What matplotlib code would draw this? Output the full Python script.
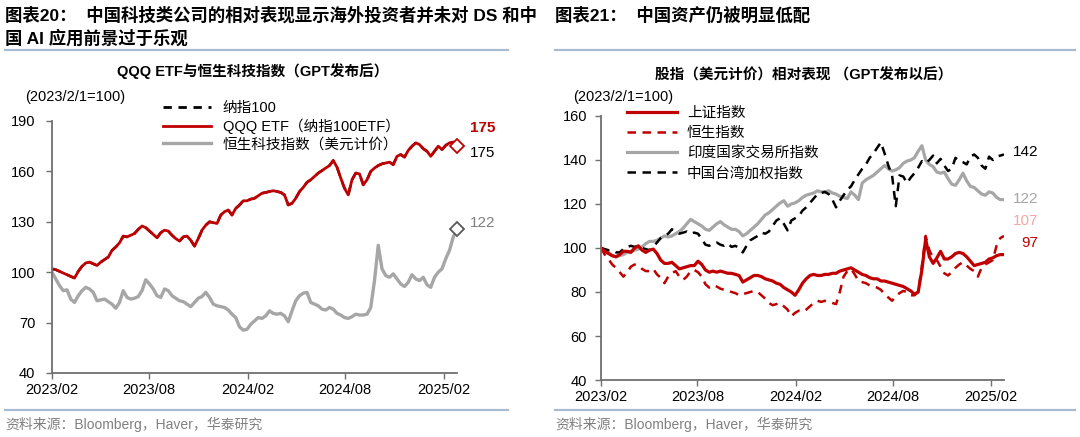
import matplotlib
matplotlib.use("Agg")
import pandas as pd
from matplotlib import pyplot as plt
from matplotlib.lines import Line2D

plt.rcParams['font.family'] = ['Liberation Sans', 'Noto Sans CJK SC']

# weekly observations, 2023/2/1 = 100
dates = pd.date_range('2023-02-01', periods=109, freq='7D')

qqq = [
    102, 101.5, 100.5, 99.5, 98.5, 97.5, 96.5, 100.5, 103.5, 105.5,
    106, 105, 104, 106, 107.5, 109, 113, 115, 117.5, 121.5,
    121, 122, 123, 125.5, 127.5, 126.5, 124.5, 122.5, 120.5, 123.5,
    125, 124.5, 122, 120, 118.5, 121, 121.5, 119, 115.5, 120,
    125, 128, 130, 129.5, 129, 134, 136, 137, 134, 138,
    140, 142.5, 142.5, 143.5, 144, 145.5, 147, 147.5, 148, 148.5,
    148, 147.5, 146, 140, 141, 144, 148, 150.5, 153.5, 155,
    157, 159, 160.5, 162, 163.5, 166.5, 162.5, 156, 150, 146,
    155, 159, 158.5, 152, 155, 160, 162, 163.5, 164.5, 165,
    165.5, 164, 169, 170, 168.5, 172.5, 175, 177, 176, 173.5,
    172, 169, 172, 175, 173, 175.5, 177, 177.5, 175,
]
ndx = list(qqq)  # the ETF tracks the index, line sits underneath

hstech = [
    100, 96, 92, 89, 89.5, 84, 82, 86, 89, 91,
    90, 88, 83, 83.5, 84, 82.5, 81, 78.5, 82, 89,
    85, 84, 84.5, 85.5, 89, 95.5, 93, 90, 86, 85,
    90, 89, 86, 84.5, 83, 82.5, 81, 79.5, 82, 84.5,
    85.5, 88, 85, 81, 80, 79.5, 79, 77.5, 75, 73,
    67.5, 65.5, 66, 69, 71, 73, 72.5, 74, 77, 75.5,
    75, 75.5, 74, 70.5, 77, 83, 86, 87.5, 88, 82,
    81, 80, 78, 77.5, 79, 78, 75.5, 74.5, 73, 72.5,
    73.5, 75, 74.5, 74.5, 75, 79, 95, 116, 102, 98,
    97, 99, 96, 93, 91.5, 94, 98.5, 96, 95, 97,
    92.5, 91, 97, 100, 102, 108, 113, 121, 125.5,
]

sse = [
    100, 98.5, 97.5, 96.5, 96, 97, 98.5, 98.5, 98, 100,
    101, 99, 98, 99, 99.5, 97.5, 94.5, 93, 93, 93.5,
    92, 90.5, 91, 91.5, 92, 92, 94, 92.5, 90, 89,
    89.5, 89, 89.5, 89, 88.5, 88.5, 88, 87.5, 84.5, 85.5,
    86.5, 87.5, 87.5, 87, 86, 85.5, 85, 84, 83.5, 82,
    81, 80, 78.5, 81, 84, 86, 87.5, 88, 87.5, 87.5,
    88, 88, 88.5, 88.5, 89.5, 90, 90.5, 91, 90, 89,
    88, 87.5, 86.5, 86, 86, 85, 85, 84.5, 84, 83.5,
    83, 82.5, 81.5, 80.5, 79, 80, 90, 104, 96, 93,
    95.5, 98.5, 95, 95, 96, 97.5, 98, 97.5, 96, 94,
    92, 92.5, 93, 93.5, 95, 95.5, 96.5, 97, 97,
]

hsi = [
    100, 97, 95, 92.5, 91, 89, 87, 89, 91.5, 92.5,
    92, 90.5, 89.5, 89.5, 90.5, 88, 86.5, 84, 87, 88.5,
    89.5, 87, 85.5, 87, 89.5, 90, 89, 87, 83.5, 82,
    83, 82.5, 81.5, 81, 80.5, 80, 79.5, 78.5, 79, 79.5,
    80, 80.5, 80, 78.5, 77, 75, 74, 74.5, 75, 73.5,
    72, 69, 70.5, 71.5, 71, 72, 73.5, 75, 76, 75.5,
    76, 75.5, 75, 74.5, 80, 87, 89.5, 90.5, 88, 85,
    84.5, 84, 83, 82.5, 82, 81, 79, 77.5, 76, 78,
    79.5, 80.5, 80, 78.5, 78.5, 80, 92, 105.5, 99, 95.5,
    94.5, 91.5, 88.5, 87.5, 89, 91, 92.5, 93.5, 92, 90.5,
    89.5, 87, 91, 92.5, 93.5, 94.5, 101, 104.5, 105.5,
]

nifty = [
    100, 99, 98, 96.5, 96, 96.5, 97, 98, 98.5, 99,
    99.5, 100.5, 102, 103, 103, 103.5, 104.5, 105.5, 105, 105.5,
    106.5, 107.5, 109, 111, 113, 112, 111, 110, 108.5, 108,
    109.5, 111, 112, 110.5, 109.5, 108.5, 108.5, 107.5, 105.5, 106.5,
    108, 109.5, 111, 113, 115, 116, 117.5, 119, 120.5, 121.5,
    119, 120, 120.5, 121.5, 123, 124, 124.5, 125, 126, 125.5,
    125.5, 126, 125, 124.5, 123.5, 123, 122.5, 125.5, 124, 122,
    129.5, 131, 132, 133, 134.5, 136, 137.5, 136, 135, 135.5,
    136.5, 138.5, 139.5, 140, 141, 144, 146.5, 140, 138, 137,
    134.5, 134, 134.5, 131.5, 129, 128.5, 131, 134, 130.5, 128,
    127.5, 126, 124.5, 124, 125.5, 125, 123, 122, 122,
]

taiex = [
    100, 99.5, 99, 99, 98, 98, 99.5, 100.5, 101, 100.5,
    101, 100, 99.5, 99, 100.5, 102.5, 104.5, 105.5, 106.5, 108.5,
    107.5, 106.5, 107, 107.5, 106.5, 107, 106.5, 104, 101.5, 101,
    102, 102.5, 101.5, 101, 102, 100.5, 101, 100, 98, 101,
    103.5, 104.5, 105.5, 107, 106.5, 107.5, 110, 112.5, 113.5, 111,
    108, 112.5, 113.5, 114.5, 117, 118.5, 120.5, 122.5, 124.5, 125,
    125.5, 124.5, 122, 118.5, 121.5, 124, 126.5, 128, 131, 133.5,
    136, 138, 141, 143, 145.5, 148, 143, 137.5, 133, 119,
    133, 132.5, 129.5, 132, 134, 136.5, 139.5, 138.5, 140, 142,
    138.5, 140.5, 137.5, 135, 136, 141, 139.5, 139, 138, 141.5,
    142.5, 141, 137.5, 136, 141.5, 140, 141.5, 142, 142.5,
]

tick_dates = pd.to_datetime(['2023-02-01', '2023-08-01', '2024-02-01', '2024-08-01', '2025-02-01'])
tick_labels = ['2023/02', '2023/08', '2024/02', '2024/08', '2025/02']

RED = '#c00000'
GREY = '#a6a6a6'
AXC = '#6f6f6f'
SEP = '#a9bbd1'


def style_axes(ax, ylim, yticks, ypad):
    for s in ['top', 'right']:
        ax.spines[s].set_visible(False)
    for s in ['left', 'bottom']:
        ax.spines[s].set_color(AXC)
        ax.spines[s].set_linewidth(1.3)
    ax.set_ylim(*ylim)
    ax.set_yticks(yticks)
    ax.set_xlim(dates[0], dates[-1])
    ax.set_xticks(tick_dates)
    ax.set_xticklabels(tick_labels)
    ax.tick_params(axis='both', direction='out', length=4, width=1, color=AXC, labelsize=10.5)
    ax.tick_params(axis='x', pad=3)
    ax.tick_params(axis='y', pad=ypad)


fig = plt.figure(figsize=(10.8, 4.37), dpi=100)

# ---------- left chart ----------
ax1 = fig.add_axes([52 / 1080, 1 - 373 / 437, (457 - 52) / 1080, (373 - 121) / 437])
ax1.plot(dates, ndx, color='black', lw=1.8, dashes=(3.5, 2.6))
ax1.plot(dates, hstech, color=GREY, lw=2.4)
ax1.plot(dates, qqq, color=RED, lw=2.0)
ax1.plot(dates[-1], qqq[-1], marker='D', ms=7, mfc='white', mec=RED, mew=1.3, clip_on=False)
ax1.plot(dates[-1], hstech[-1], marker='D', ms=7, mfc='white', mec='#595959', mew=1.3, clip_on=False)
style_axes(ax1, (40, 190), [40, 70, 100, 130, 160, 190], 8)

h1 = [Line2D([], [], color='black', lw=2.0, dashes=(3.0, 2.4)),
      Line2D([], [], color=RED, lw=2.0),
      Line2D([], [], color=GREY, lw=2.4)]
fig.legend(h1, ['纳指100', 'QQQ ETF（纳指100ETF）', '恒生科技指数（美元计价）'],
           loc='upper left', bbox_to_anchor=(163 / 1080, 1 - 101 / 437), frameon=False,
           fontsize=10.5, handlelength=3.3, handletextpad=0.8, labelspacing=0.24,
           borderpad=0, borderaxespad=0)

fig.text(483 / 1080, 1 - 128 / 437, '175', color=RED, fontsize=11, fontweight='bold', ha='center', va='center')
fig.text(483 / 1080, 1 - 153 / 437, '175', color='black', fontsize=11, ha='center', va='center')
fig.text(483 / 1080, 1 - 223 / 437, '122', color='#808080', fontsize=11, ha='center', va='center')

fig.text(25 / 1080, 1 - 97 / 437, '(2023/2/1=100)', fontsize=10.5, ha='left', va='center')
fig.text(253 / 1080, 1 - 71 / 437, 'QQQ ETF与恒生科技指数（GPT发布后）', fontsize=10.5,
         fontweight='bold', ha='center', va='center')

# ---------- right chart ----------
ax2 = fig.add_axes([601 / 1080, 1 - 380 / 437, (1004 - 601) / 1080, (380 - 116) / 437])
ax2.plot(dates, nifty, color=GREY, lw=2.3)
ax2.plot(dates, taiex, color='black', lw=1.8, dashes=(3.5, 2.6))
ax2.plot(dates, hsi, color=RED, lw=1.8, dashes=(3.5, 2.6))
ax2.plot(dates, sse, color=RED, lw=2.3)
style_axes(ax2, (40, 160), [40, 60, 80, 100, 120, 140, 160], 6)

h2 = [Line2D([], [], color=RED, lw=2.3),
      Line2D([], [], color=RED, lw=1.8, dashes=(3.4, 2.6)),
      Line2D([], [], color=GREY, lw=2.3),
      Line2D([], [], color='black', lw=1.8, dashes=(3.4, 2.6))]
fig.legend(h2, ['上证指数', '恒生指数', '印度国家交易所指数', '中国台湾加权指数'],
           loc='upper left', bbox_to_anchor=(627 / 1080, 1 - 106 / 437), frameon=False,
           fontsize=10.5, handlelength=3.4, handletextpad=0.7, labelspacing=0.42,
           borderpad=0, borderaxespad=0)

fig.text(1038 / 1080, 1 - 152 / 437, '142', color='black', fontsize=11, ha='right', va='center')
fig.text(1038 / 1080, 1 - 199 / 437, '122', color=GREY, fontsize=11, ha='right', va='center')
fig.text(1038 / 1080, 1 - 221 / 437, '107', color='#f4a6a6', fontsize=11, ha='right', va='center')
fig.text(1038 / 1080, 1 - 243 / 437, '97', color=RED, fontsize=11, ha='right', va='center')

fig.text(573 / 1080, 1 - 97 / 437, '(2023/2/1=100)', fontsize=10.5, ha='left', va='center')
fig.text(804 / 1080, 1 - 75 / 437, '股指（美元计价）相对表现 （GPT发布以后）', fontsize=10.5,
         fontweight='bold', ha='center', va='center')

# ---------- headers / footers ----------
fig.text(5 / 1080, 1 - 15 / 437, '图表20：  中国科技类公司的相对表现显示海外投资者并未对 DS 和中',
         fontsize=12.5, fontweight='bold', ha='left', va='center')
fig.text(5 / 1080, 1 - 38 / 437, '国 AI 应用前景过于乐观', fontsize=12.5, fontweight='bold',
         ha='left', va='center')
fig.text(555 / 1080, 1 - 15 / 437, '图表21：  中国资产仍被明显低配', fontsize=12.5, fontweight='bold',
         ha='left', va='center')

for x0, x1 in [(5, 508), (555, 1075)]:
    for yy in [50, 410]:
        fig.add_artist(Line2D([x0 / 1080, x1 / 1080], [1 - yy / 437, 1 - yy / 437],
                              color=SEP, lw=1.6, transform=fig.transFigure))

fig.text(5 / 1080, 1 - 424 / 437, '资料来源：Bloomberg，Haver，华泰研究', color='#808080',
         fontsize=10, ha='left', va='center')
fig.text(555 / 1080, 1 - 424 / 437, '资料来源：Bloomberg，Haver，华泰研究', color='#808080',
         fontsize=10, ha='left', va='center')

fig.savefig('out.png', dpi=100)
